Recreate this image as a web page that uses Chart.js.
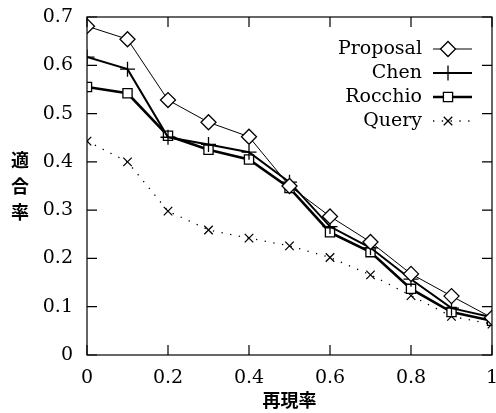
<!DOCTYPE html>
<html>
<head>
<meta charset="utf-8">
<script src="https://cdn.jsdelivr.net/npm/chart.js@4/dist/chart.umd.min.js"></script>
<style>
  html, body { margin: 0; padding: 0; background: #fff; }
  #wrap { width: 496px; height: 413px; }
</style>
</head>
<body>
<div id="wrap"><canvas id="prChart" width="496" height="413"></canvas></div>
<script>
/* ===== data ===== */
const recall   = [0, 0.1, 0.2, 0.3, 0.4, 0.5, 0.6, 0.7, 0.8, 0.9, 1.0];
const proposal = [0.681, 0.654, 0.528, 0.482, 0.452, 0.350, 0.287, 0.234, 0.168, 0.122, 0.077];
const chen     = [0.617, 0.592, 0.451, 0.436, 0.420, 0.358, 0.266, 0.222, 0.157, 0.097, 0.078];
const rocchio  = [0.555, 0.542, 0.454, 0.425, 0.405, 0.346, 0.254, 0.213, 0.137, 0.089, 0.071];
const query    = [0.443, 0.400, 0.298, 0.259, 0.242, 0.226, 0.202, 0.166, 0.123, 0.080, 0.064];

const xTicks = [0, 0.2, 0.4, 0.6, 0.8, 1];
const yTicks = [0, 0.1, 0.2, 0.3, 0.4, 0.5, 0.6, 0.7];
const xTitle = "再現率";
const yTitle = "適合率";

const SERIF = "'DejaVu Serif', 'Liberation Serif', serif";
const CJK = "'Noto Sans CJK JP', sans-serif";

function pts(ys){ return recall.map((x,i)=>({x:x, y:ys[i]})); }

/* ===== inward ticks, box, legend, y title ===== */
const frame = {
  id: "frame",
  afterDatasetsDraw(chart){
    const c = chart.ctx, a = chart.chartArea;
    const xs = chart.scales.x, ys = chart.scales.y;
    c.save();
    c.strokeStyle = "#000";
    c.lineWidth = 1.2;
    c.strokeRect(a.left, a.top, a.right - a.left, a.bottom - a.top);
    c.beginPath();
    xTicks.forEach(v=>{
      const px = xs.getPixelForValue(v);
      c.moveTo(px, a.bottom); c.lineTo(px, a.bottom - 10);
      c.moveTo(px, a.top);    c.lineTo(px, a.top + 10);
    });
    yTicks.forEach(v=>{
      const py = ys.getPixelForValue(v);
      c.moveTo(a.left, py);  c.lineTo(a.left + 10, py);
      c.moveTo(a.right, py); c.lineTo(a.right - 10, py);
    });
    c.stroke();

    // legend
    c.font = "19px " + SERIF;
    c.textAlign = "right";
    c.textBaseline = "middle";
    chart.data.datasets.forEach((d,i)=>{
      const y = 49 + i * 24;
      c.fillStyle = "#000";
      c.fillText(d.label, 422, y);
      c.save();
      c.lineWidth = d.borderWidth;
      c.strokeStyle = "#000";
      c.setLineDash(d.borderDash || []);
      c.beginPath(); c.moveTo(433, y); c.lineTo(472, y); c.stroke();
      c.restore();
      c.save();
      c.fillStyle = "#fff";
      c.strokeStyle = "#000";
      c.lineWidth = 1.3;
      Chart.helpers.drawPoint(c, {
        pointStyle: d.pointStyle, radius: d.pointRadius, borderWidth: 1.3
      }, 448, y);
      c.restore();
    });

    // y title, stacked characters
    c.fillStyle = "#000";
    c.font = "bold 18px " + CJK;
    c.textAlign = "center";
    [...yTitle].forEach((ch,i)=> c.fillText(ch, 20, 160 + i * 26));
    c.restore();
  }
};

const common = { fill:false, tension:0, borderColor:"#000", pointBorderColor:"#000",
                 pointBackgroundColor:"#fff", pointBorderWidth:1.3 };

new Chart(document.getElementById("prChart"), {
  type: "scatter",
  data: {
    datasets: [
      { ...common, label:"Proposal", data:pts(proposal), showLine:true, borderWidth:1,
        pointStyle:"rectRot", pointRadius:7.5 },
      { ...common, label:"Chen", data:pts(chen), showLine:true, borderWidth:2,
        pointStyle:"cross", pointRadius:7.5 },
      { ...common, label:"Rocchio", data:pts(rocchio), showLine:true, borderWidth:2.6,
        pointStyle:"rect", pointRadius:6.5 },
      { ...common, label:"Query", data:pts(query), showLine:true, borderWidth:1.3,
        borderDash:[1.3, 7.5], pointStyle:"crossRot", pointRadius:6 }
    ]
  },
  options: {
    responsive: false,
    animation: false,
    devicePixelRatio: 1,
    layout: { autoPadding: false, padding: { left: 0, right: 4, top: 17, bottom: 0 } },
    plugins: { legend: { display:false }, tooltip: { enabled:false } },
    scales: {
      x: {
        type: "linear", min: 0, max: 1,
        afterBuildTicks: s => { s.ticks = xTicks.map(v=>({value:v})); },
        afterFit: s => { s.height = 58; s.paddingLeft = 0; s.paddingRight = 0; },
        grid: { display:false },
        border: { display:false },
        ticks: { color:"#000", padding:4, maxRotation:0,
                 font:{ family:SERIF, size:19 },
                 callback: v => String(v) },
        title: { display:true, text:xTitle, color:"#000",
                 font:{ family:CJK, size:18, weight:"bold" }, padding:{top:0, bottom:2} }
      },
      y: {
        type: "linear", min: 0, max: 0.7,
        afterBuildTicks: s => { s.ticks = yTicks.map(v=>({value:v})); },
        afterFit: s => { s.width = 87; s.paddingTop = 0; s.paddingBottom = 0; },
        grid: { display:false },
        border: { display:false },
        ticks: { color:"#000", padding:6,
                 font:{ family:SERIF, size:19 },
                 callback: v => String(Math.round(v*10)/10) }
      }
    }
  },
  plugins: [frame]
});
</script>
</body>
</html>
